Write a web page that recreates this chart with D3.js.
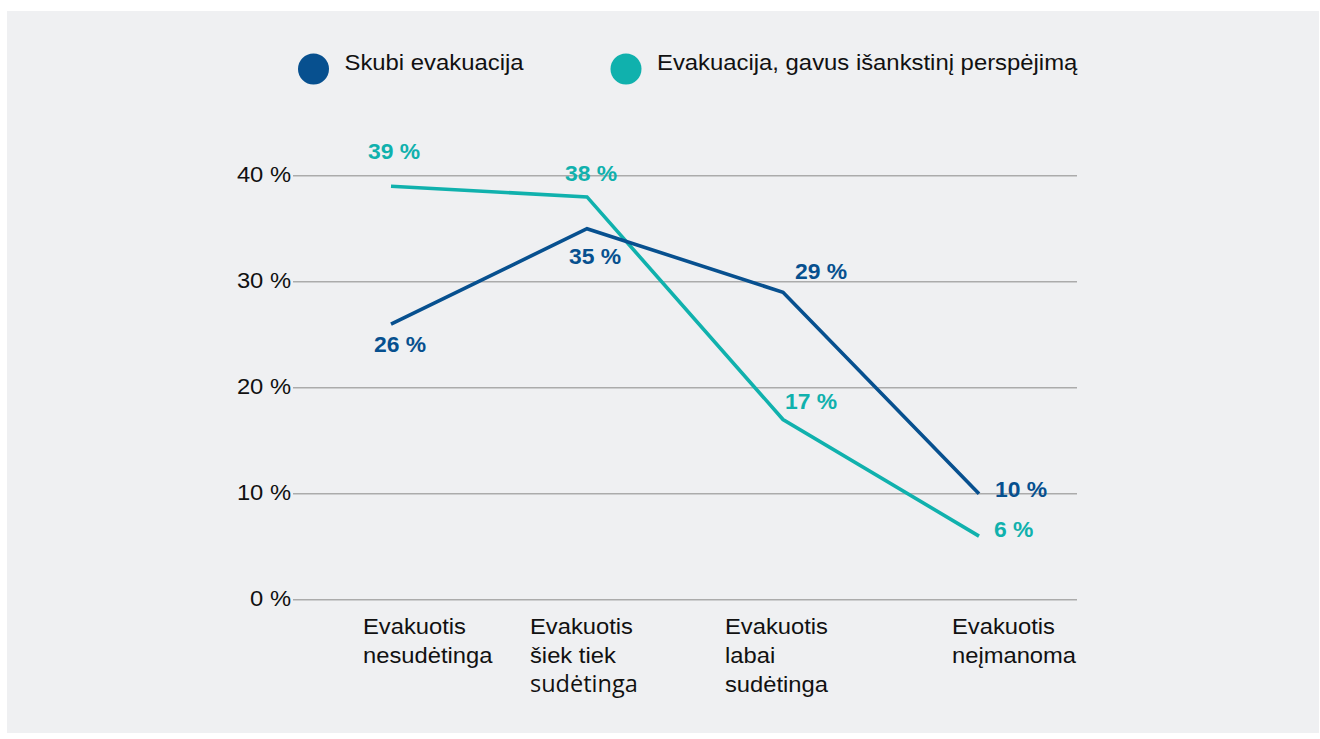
<!DOCTYPE html>
<html>
<head>
<meta charset="utf-8">
<script src="https://cdn.jsdelivr.net/npm/d3@7"></script>
<style>
  html, body { margin: 0; padding: 0; background: #ffffff; }
  svg { display: block; }
</style>
</head>
<body>
<svg id="chart" width="1320" height="739"></svg>
<script>
// ---- data ----
const categories = ["c1", "c2", "c3", "c4"];
const categoryLabels = [
  ["Evakuotis", "nesudėtinga"],
  ["Evakuotis", "šiek tiek", "sudėtinga"],
  ["Evakuotis", "labai", "sudėtinga"],
  ["Evakuotis", "neįmanoma"]
];
const seriesNames = ["Skubi evakuacija", "Evakuacija, gavus išankstinį perspėjimą"];
const skubi = [26, 35, 29, 10];
const perspejimas = [39, 38, 17, 6];
const yTicks = [0, 10, 20, 30, 40];

// ---- layout ----
const blue = "#07508f", teal = "#10b1ad";
const svg = d3.select("#chart");
const SX = 1.08;
const FONT = "'Liberation Sans', Arial, sans-serif";

svg.append("rect").attr("x", 7).attr("y", 11).attr("width", 1312).attr("height", 722).attr("fill", "#eff0f2");

const x = d3.scalePoint().domain(categories).range([293, 1077]).padding(0.5);
const y = d3.scaleLinear().domain([0, 40]).range([599.7, 175.7]);

function txt(g, px, py, str, o) {
  o = o || {};
  return g.append("text")
    .attr("transform", `translate(${px},${py}) scale(${o.sx || SX},1)`)
    .attr("text-anchor", o.anchor || "start")
    .attr("font-family", o.family || FONT)
    .attr("font-size", o.size || 22)
    .attr("font-weight", o.weight || "normal")
    .attr("fill", o.fill || "#111")
    .text(str);
}

// gridlines + y labels
const grid = svg.append("g");
yTicks.forEach(t => {
  grid.append("line").attr("x1", 293).attr("x2", 1077)
    .attr("y1", y(t)).attr("y2", y(t))
    .attr("stroke", "#ababab").attr("stroke-width", 1.5);
  txt(grid, 291, y(t) + 6.5, t + " %", {anchor: "end"});
});

// x labels
const labelDx = [-28, -57, -58, -27];
const xl = svg.append("g");
categoryLabels.forEach((lines, i) => {
  lines.forEach((ln, j) => {
    const special = (i === 1 && j === 2);
    txt(xl, x(categories[i]) + labelDx[i], 634 + j * 29, ln,
      special ? {family: "'Open Sans', sans-serif", size: 23.5, sx: 1.0} : {});
  });
});

// lines
const line = d3.line().x((d, i) => x(categories[i])).y(d => y(d));
svg.append("path").datum(perspejimas).attr("d", line)
  .attr("fill", "none").attr("stroke", teal).attr("stroke-width", 3.6);
svg.append("path").datum(skubi).attr("d", line)
  .attr("fill", "none").attr("stroke", blue).attr("stroke-width", 3.6);

// data labels
const blueOff = [[9, 28, "middle"], [8, 35, "middle"], [38, -13, "middle"], [16, 3, "start"]];
const tealOff = [[3, -27, "middle"], [4, -16, "middle"], [28, -11, "middle"], [15, 1, "start"]];
const dl = svg.append("g");
skubi.forEach((v, i) => {
  const o = blueOff[i];
  txt(dl, x(categories[i]) + o[0], y(v) + o[1], v + " %", {anchor: o[2], weight: "bold", fill: blue, sx: 1.04});
});
perspejimas.forEach((v, i) => {
  const o = tealOff[i];
  txt(dl, x(categories[i]) + o[0], y(v) + o[1], v + " %", {anchor: o[2], weight: "bold", fill: teal, sx: 1.04});
});

// legend
const lg = svg.append("g");
const legendX = [313.5, 626];
[blue, teal].forEach((c, i) => {
  lg.append("circle").attr("cx", legendX[i]).attr("cy", 69).attr("r", 15.5).attr("fill", c);
  txt(lg, legendX[i] + 31, 70, seriesNames[i], {size: 22, sx: 1.085});
});
</script>
</body>
</html>
